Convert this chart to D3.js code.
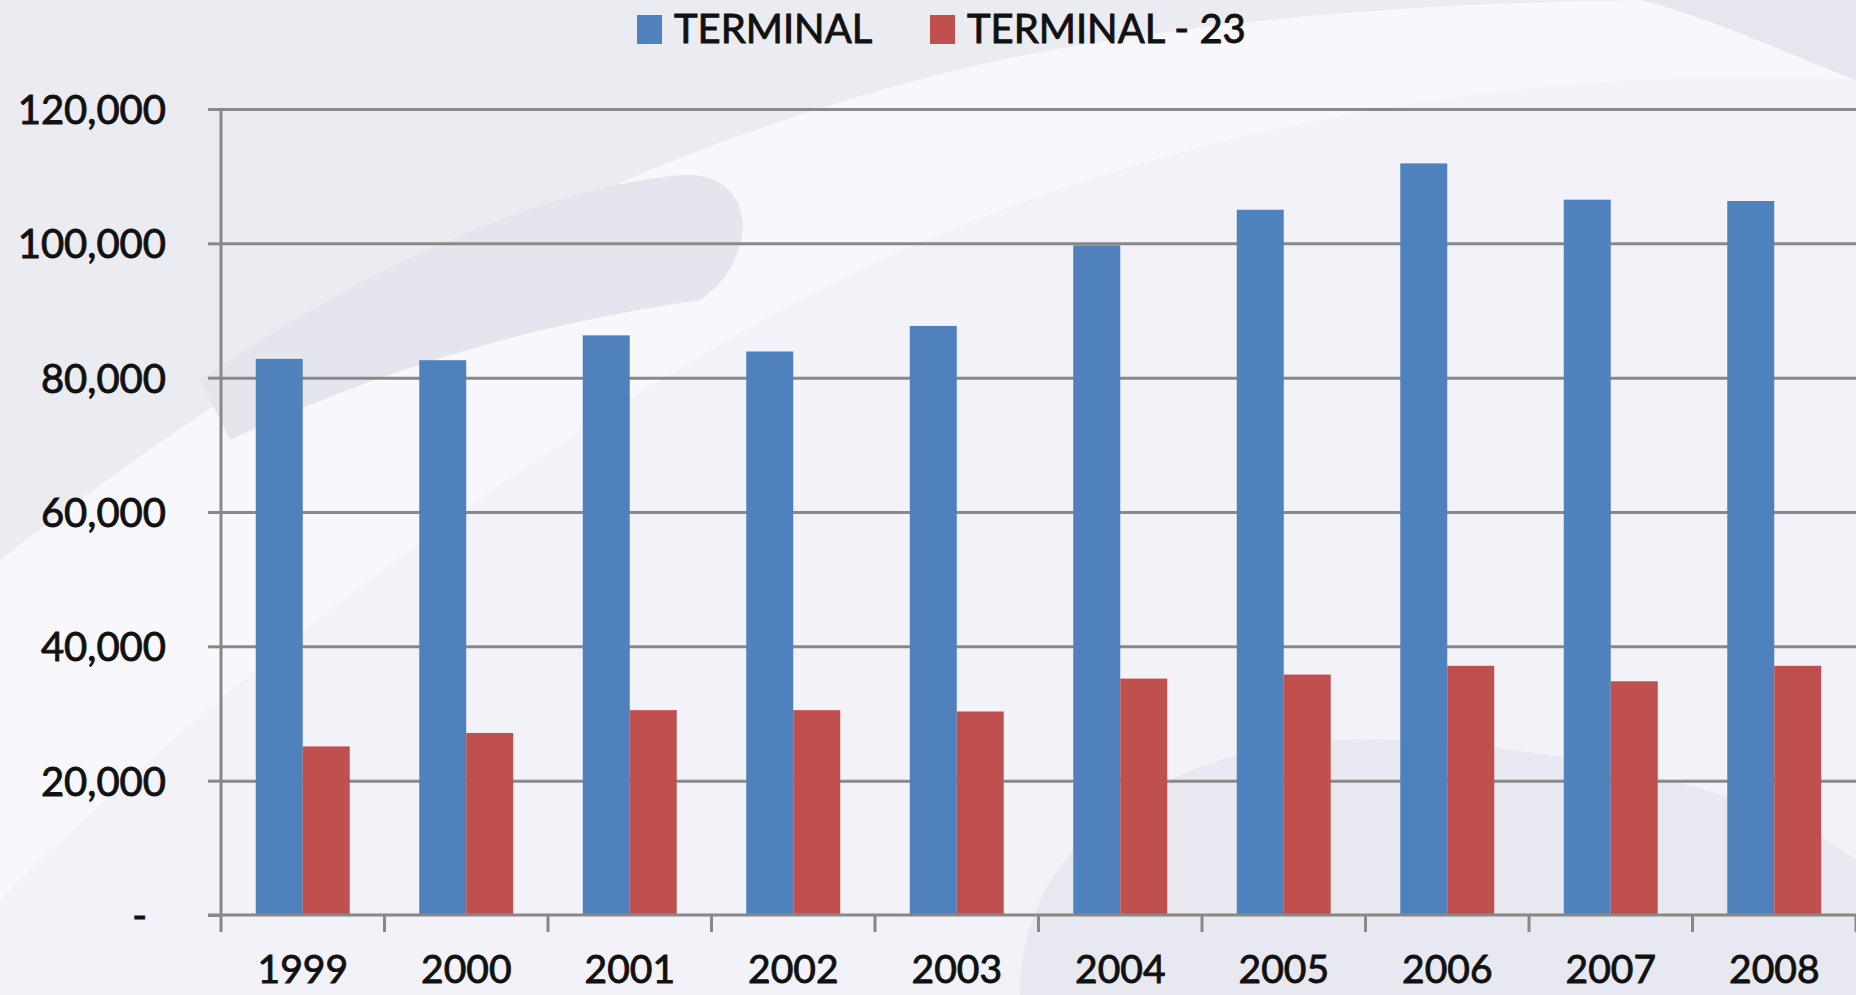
<!DOCTYPE html>
<html>
<head>
<meta charset="utf-8">
<script src="https://cdnjs.cloudflare.com/ajax/libs/d3/7.8.5/d3.min.js"></script>
<style>
  body { margin: 0; background: #f3f3f8; }
  svg text { font-family: Lato, "Open Sans", sans-serif; fill: #111; stroke: #111; stroke-width: 0.9px; }
</style>
</head>
<body>
<div id="chart"></div>
<script>
var width = 1856, height = 995;

// data
var years = ["1999", "2000", "2001", "2002", "2003", "2004", "2005", "2006", "2007", "2008"];
var seriesNames = ["TERMINAL", "TERMINAL - 23"];
var terminal = [82800, 82600, 86300, 83900, 87700, 99700, 105000, 111900, 106500, 106300];
var terminal23 = [25100, 27100, 30500, 30500, 30300, 35200, 35800, 37100, 34800, 37100];
var yTicks = [0, 20000, 40000, 60000, 80000, 100000, 120000];
var colors = ["#4f81bd", "#c0504d"];

var svg = d3.select("#chart").append("svg")
    .attr("width", width)
    .attr("height", height);

// faint watermark swooshes in the background
var bg = svg.append("g").attr("class", "bg");
bg.append("rect").attr("width", width).attr("height", height).attr("fill", "#f2f2f8");
bg.append("path")
    .attr("d", "M0,620 C250,420 700,170 1100,70 C1350,10 1600,0 1856,10 L1856,0 L0,0 Z")
    .attr("fill", "#ebebf2");
bg.append("path")
    .attr("d", "M0,560 C300,330 600,150 1000,60 C1250,10 1500,0 1700,0 L1856,0 L1856,80 C1500,60 1100,140 800,300 C500,460 200,700 0,900 Z")
    .attr("fill", "#f8f8fc");
bg.append("path")
    .attr("d", "M200,380 C330,290 520,190 680,175 C760,170 760,260 700,300 C560,320 400,360 230,440 Z")
    .attr("fill", "#e5e5ee");
bg.append("path")
    .attr("d", "M1020,995 C1020,820 1200,730 1400,740 C1600,750 1780,800 1856,860 L1856,995 Z")
    .attr("fill", "#e8e8f1");
bg.append("path")
    .attr("d", "M1640,0 C1720,20 1800,60 1856,80 L1856,0 Z")
    .attr("fill", "#e6e6ef");

var margin = {left: 221, right: 0, top: 109, bottom: 80};
var plotBottom = 915;

var x0 = d3.scaleBand()
    .domain(years)
    .range([margin.left, width - margin.right])
    .paddingInner(0)
    .paddingOuter(0);

var x1 = d3.scaleBand()
    .domain(seriesNames)
    .range([0, x0.bandwidth()])
    .paddingInner(0)
    .paddingOuter(0.74);

var y = d3.scaleLinear()
    .domain([0, 120000])
    .range([plotBottom, margin.top]);

// gridlines
svg.append("g")
    .attr("class", "grid")
    .attr("transform", "translate(" + margin.left + ",0)")
    .call(d3.axisLeft(y)
        .tickValues(yTicks.filter(function(d) { return d > 0; }))
        .tickSize(-(width - margin.left))
        .tickFormat("")
    )
    .call(function(g) {
        g.select(".domain").remove();
        g.selectAll("line").attr("stroke", "#888").attr("stroke-width", 3);
    });

// bars
var rows = years.map(function(yr, i) {
    return {year: yr, values: [terminal[i], terminal23[i]]};
});

var groups = svg.append("g").selectAll("g")
    .data(rows)
    .join("g")
    .attr("transform", function(d) { return "translate(" + x0(d.year) + ",0)"; });

groups.selectAll("rect")
    .data(function(d) {
        return d.values.map(function(v, j) { return {name: seriesNames[j], value: v, idx: j}; });
    })
    .join("rect")
    .attr("x", function(d) { return x1(d.name); })
    .attr("y", function(d) { return y(d.value); })
    .attr("width", x1.bandwidth())
    .attr("height", function(d) { return plotBottom - y(d.value); })
    .attr("fill", function(d) { return colors[d.idx]; });

// y axis
var yAxis = svg.append("g")
    .attr("class", "myYaxis")
    .attr("transform", "translate(" + margin.left + ",0)")
    .call(d3.axisLeft(y)
        .tickValues(yTicks)
        .tickSize(13)
        .tickPadding(42)
        .tickFormat(function(d) { return d === 0 ? "-" : d3.format(",")(d); })
    );
yAxis.select(".domain").attr("stroke", "#888").attr("stroke-width", 3)
    .attr("d", "M0," + plotBottom + "V" + margin.top);
yAxis.selectAll("line").attr("stroke", "#888").attr("stroke-width", 3);
yAxis.selectAll("text")
    .style("font-size", "40px")
    .attr("fill", "#111")
    .attr("dy", "0.36em");
yAxis.selectAll(".tick").filter(function(d) { return d === 0; }).select("text")
    .attr("x", -74);

// x axis
var xAxis = svg.append("g")
    .attr("class", "myXaxis")
    .attr("transform", "translate(0," + plotBottom + ")")
    .call(d3.axisBottom(x0).tickSize(0).tickPadding(40));
xAxis.select(".domain").attr("stroke", "#888").attr("stroke-width", 3)
    .attr("d", "M" + (margin.left - 13) + ",0H" + width);
xAxis.selectAll("text")
    .style("font-size", "39px")
    .attr("fill", "#111")
    .attr("dy", "0.71em");

// category separator ticks
svg.append("g")
    .selectAll("line")
    .data(years.concat(["end"]))
    .join("line")
    .attr("x1", function(d, i) { return margin.left + i * x0.step(); })
    .attr("x2", function(d, i) { return margin.left + i * x0.step(); })
    .attr("y1", plotBottom)
    .attr("y2", plotBottom + 17)
    .attr("stroke", "#888")
    .attr("stroke-width", 3);

// legend
var legendX = [637, 930];
var legend = svg.append("g").attr("class", "legend");
seriesNames.forEach(function(name, i) {
    legend.append("rect")
        .attr("x", legendX[i])
        .attr("y", 15)
        .attr("width", 25)
        .attr("height", 29)
        .attr("fill", colors[i]);
    legend.append("text")
        .attr("x", legendX[i] + 37)
        .attr("y", 43)
        .style("font-size", "40px")
        .text(name);
});
</script>
</body>
</html>
